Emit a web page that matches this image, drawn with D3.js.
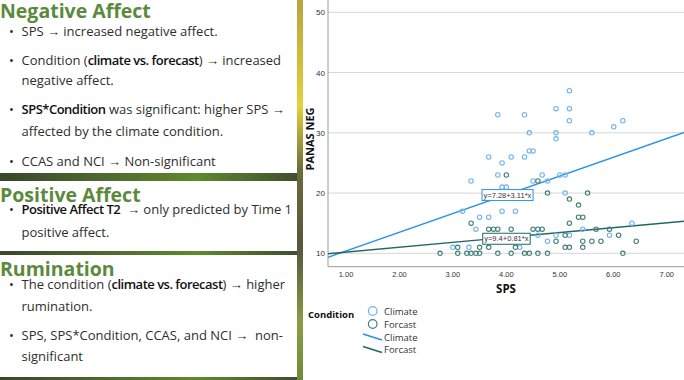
<!DOCTYPE html>
<html>
<head>
<meta charset="utf-8">
<script src="https://cdn.jsdelivr.net/npm/d3@7"></script>
<style>
  body { margin: 0; background: #fff; }
  svg { display: block; }
</style>
</head>
<body>
<script>
// slide text
let headings = ["Negative Affect", "Positive Affect", "Rumination"];

// each line: list of [text, bold], first line of a bullet starts with "*"
let negLines = [
  ["*", ["SPS → increased negative affect.", 0]],
  ["*", ["Condition (", 0], ["climate vs. forecast", 1], [") → increased", 0]],
  ["", ["negative affect.", 0]],
  ["*", ["SPS*Condition", 1], [" was significant: higher SPS →", 0]],
  ["", ["affected by the climate condition.", 0]],
  ["*", ["CCAS and NCI → Non-significant", 0]]
];
let posLines = [
  ["*", ["Positive Affect T2", 1], ["  → only predicted by Time 1", 0]],
  ["", ["positive affect.", 0]]
];
let rumLines = [
  ["*", ["The condition (", 0], ["climate vs. forecast", 1], [") → higher", 0]],
  ["", ["rumination.", 0]],
  ["*", ["SPS, SPS*Condition, CCAS, and NCI →  non-", 0]],
  ["", ["significant", 0]]
];

// chart data: [SPS, PANAS NEG]
let climate = [
  [3.84,33],[4.34,33],[4.93,34],[5.18,37],[5.18,34],[5.18,32],[4.43,30],[4.93,30],
  [4.93,29],[5.6,30],[6.01,31],[6.18,32],[3.67,26],[3.92,25],[4.09,26],[4.34,26],
  [4.43,27],[4.5,27],[3.84,23],[3.34,22],[3.92,21],[4.0,21],[4.67,23],[5.0,23],
  [5.1,23],[4.5,22],[4.77,22],[5.1,20],[3.18,17],[3.92,17],[4.17,17],[3.5,16],
  [3.67,16],[3.43,14],[5.43,14],[6.35,15],[5.93,13],[4.59,13],[4.93,13],[5.18,13],
  [4.77,12],[3.0,11],[3.3,11],[4.25,11]
];
let forcast = [
  [4.0,23],[4.59,22],[4.77,20],[5.52,20],[5.18,19],[5.35,18],[3.34,15],[5.35,16],
  [5.43,16],[5.18,15],[5.68,14],[5.93,14],[6.1,13],[3.67,14],[3.76,14],[3.84,14],
  [4.09,14],[4.5,14],[4.59,14],[4.67,14],[5.1,13],[4.93,12],[5.43,12],[5.6,12],
  [5.77,12],[6.43,12],[3.09,11],[3.5,11],[3.67,11],[4.17,11],[5.1,11],[5.18,11],
  [5.43,11],[2.76,10],[3.09,10],[3.26,10],[3.34,10],[3.43,10],[3.5,10],[3.84,10],
  [4.09,10],[4.34,10],[4.43,10],[4.59,10],[4.77,10],[6.18,10]
];
let fits = [
  {name: "Climate", a: 7.28, b: 3.11, label: "y=7.28+3.11*x", at: [4.02, 19.7]},
  {name: "Forcast", a: 9.4, b: 0.81, label: "y=9.4+0.81*x", at: [4.0, 12.45]}
];
let xTicks = [1, 2, 3, 4, 5, 6, 7];
let yTicks = [10, 20, 30, 40, 50];

let colors = {
  Climate: {dot: "#6fb3ec", line: "#2b92e4"},
  Forcast: {dot: "#3f7e77", line: "#1e6a62"}
};

let svg = null;
let x, y = null;

appendSvg("body");
drawSlide();
setupScales();
drawGrid();
drawAxes();
drawFits();
drawPoints();
drawLegend();

function appendSvg(domElement) {
  svg = d3.select(domElement).append("svg")
    .attr("width", 684)
    .attr("height", 380)
    .style("font-family", "'Open Sans', sans-serif");
}

function drawSlide() {
  let defs = svg.append("defs");
  let bg = defs.append("linearGradient").attr("id", "forest")
    .attr("x1", 0).attr("x2", 1).attr("y1", 0).attr("y2", 0);
  bg.append("stop").attr("offset", "0%").attr("stop-color", "#39462b");
  bg.append("stop").attr("offset", "35%").attr("stop-color", "#4f6a30");
  bg.append("stop").attr("offset", "65%").attr("stop-color", "#5e8a2c");
  bg.append("stop").attr("offset", "100%").attr("stop-color", "#3e4a30");

  let strip = defs.append("linearGradient").attr("id", "strip")
    .attr("x1", 0).attr("x2", 0).attr("y1", 0).attr("y2", 1);
  strip.append("stop").attr("offset", "0%").attr("stop-color", "#b7a43c");
  strip.append("stop").attr("offset", "28%").attr("stop-color", "#e2d23a");
  strip.append("stop").attr("offset", "45%").attr("stop-color", "#6d6a3a");
  strip.append("stop").attr("offset", "65%").attr("stop-color", "#57553e");
  strip.append("stop").attr("offset", "85%").attr("stop-color", "#8d9c44");
  strip.append("stop").attr("offset", "100%").attr("stop-color", "#6f8a38");

  svg.append("rect").attr("x", 0).attr("y", 0).attr("width", 303).attr("height", 380)
    .attr("fill", "url(#forest)");
  svg.append("rect").attr("x", 297).attr("y", 0).attr("width", 6).attr("height", 380)
    .attr("fill", "url(#strip)");

  let boxes = [[0, 173], [181, 251], [255, 377]];
  boxes.forEach(function(b) {
    svg.append("rect").attr("x", -2).attr("y", b[0]).attr("width", 299)
      .attr("height", b[1] - b[0]).attr("fill", "#fff");
  });

  let headY = [17.5, 201.5, 275.5];
  svg.selectAll(".head").data(headings).enter().append("text")
    .attr("class", "head")
    .attr("x", 0).attr("y", function(d, i) { return headY[i]; })
    .attr("fill", "#5b8a3c")
    .style("font-size", "19.5px").style("font-weight", 700)
    .text(function(d) { return d; });

  writeLines(negLines, [36, 65, 85, 114.3, 136, 165.5]);
  writeLines(posLines, [214.3, 236.5]);
  writeLines(rumLines, [289, 311, 340, 360.5]);
}

function writeLines(lines, ys) {
  lines.forEach(function(line, i) {
    if (line[0] == "*") {
      svg.append("text").attr("x", 9).attr("y", ys[i])
        .attr("fill", "#2e2e2e").style("font-size", "13px").text("•");
    }
    let t = svg.append("text").attr("x", 21.5).attr("y", ys[i])
      .attr("fill", "#2e2e2e").style("font-size", "13px")
      .attr("xml:space", "preserve");
    line.slice(1).forEach(function(seg) {
      t.append("tspan")
        .style("font-weight", seg[1] ? 600 : 400)
        .style("letter-spacing", seg[1] ? "-0.5px" : null)
        .attr("fill", seg[1] ? "#111" : "#2e2e2e")
        .text(seg[0]);
    });
  });
}

function setupScales() {
  x = d3.scaleLinear().domain([0.663, 7.324]).range([328, 684]);
  y = d3.scaleLinear().domain([7.78, 52.04]).range([266.7, 0]);
}

function drawGrid() {
  svg.append("g").selectAll("line").data(yTicks).enter().append("line")
    .attr("x1", x.range()[0]).attr("x2", x.range()[1])
    .attr("y1", function(d) { return y(d); }).attr("y2", function(d) { return y(d); })
    .attr("stroke", "#d6d6d6").attr("stroke-width", 1);
}

function drawAxes() {
  let g = svg.append("g");
  g.append("line").attr("x1", 328).attr("x2", 328).attr("y1", 0).attr("y2", y.range()[0])
    .attr("stroke", "#9a9a9a");
  g.append("line").attr("x1", 328).attr("x2", 684).attr("y1", y.range()[0]).attr("y2", y.range()[0])
    .attr("stroke", "#9a9a9a");

  g.selectAll(".yt").data(yTicks).enter().append("text")
    .attr("x", 325).attr("y", function(d) { return y(d) + 3; })
    .attr("text-anchor", "end").attr("fill", "#333")
    .style("font-size", "8px").style("font-family", "Arial, 'Liberation Sans', sans-serif")
    .text(function(d) { return d; });

  g.selectAll(".xt").data(xTicks).enter().append("text")
    .attr("x", function(d) { return x(d); }).attr("y", 277)
    .attr("text-anchor", "middle").attr("fill", "#333")
    .style("font-size", "7.5px").style("font-family", "Arial, 'Liberation Sans', sans-serif")
    .text(function(d) { return d3.format(".2f")(d); });

  g.append("text").attr("x", 506).attr("y", 292.5).attr("text-anchor", "middle")
    .style("font-size", "11.5px").style("font-weight", 700).attr("fill", "#111")
    .text("SPS");

  g.append("text").attr("transform", "translate(313.5,139) rotate(-90)")
    .attr("text-anchor", "middle")
    .style("font-size", "11px").style("font-weight", 700).attr("fill", "#111")
    .text("PANAS NEG");
}

function drawFits() {
  let line = d3.line().x(function(d) { return x(d[0]); }).y(function(d) { return y(d[1]); });
  let dom = x.domain();

  fits.forEach(function(f) {
    svg.append("path")
      .datum(dom.map(function(v) { return [v, f.a + f.b * v]; }))
      .attr("d", line).attr("fill", "none")
      .attr("stroke", colors[f.name].line).attr("stroke-width", 1.4);
  });

  fits.forEach(function(f) {
    let g = svg.append("g");
    let t = g.append("text").attr("x", x(f.at[0])).attr("y", y(f.at[1]) + 2.7)
      .attr("text-anchor", "middle").attr("fill", "#333")
      .style("font-size", "7.5px").style("font-family", "Arial, 'Liberation Sans', sans-serif")
      .text(f.label);
    let bb = t.node().getBBox();
    g.insert("rect", "text")
      .attr("x", bb.x - 1.5).attr("y", bb.y - 1)
      .attr("width", bb.width + 3).attr("height", bb.height + 2)
      .attr("fill", "#fff").attr("stroke", colors[f.name].line).attr("stroke-width", 1);
  });
}

function drawPoints() {
  [["Climate", climate], ["Forcast", forcast]].forEach(function(s) {
    svg.append("g").selectAll("circle").data(s[1]).enter().append("circle")
      .attr("cx", function(d) { return x(d[0]); })
      .attr("cy", function(d) { return y(d[1]); })
      .attr("r", 2.2).attr("fill", "none")
      .attr("stroke", colors[s[0]].dot).attr("stroke-width", 1.1);
  });
}

function drawLegend() {
  let g = svg.append("g");
  g.append("text").attr("x", 308).attr("y", 318).attr("fill", "#111")
    .style("font-size", "9.5px").style("font-weight", 700).text("Condition");

  let names = ["Climate", "Forcast"];
  names.forEach(function(n, i) {
    g.append("circle").attr("cx", 372.7).attr("cy", 311 + i * 13).attr("r", 4.3)
      .attr("fill", "none").attr("stroke", colors[n].dot).attr("stroke-width", 1.2);
    g.append("text").attr("x", 384).attr("y", 315 + i * 13).attr("fill", "#333")
      .style("font-size", "9.5px").text(n);
  });
  names.forEach(function(n, i) {
    let yy = 337 + i * 12.5;
    g.append("line").attr("x1", 363).attr("x2", 382).attr("y1", yy - 3).attr("y2", yy + 3)
      .attr("stroke", colors[n].line).attr("stroke-width", 1.6);
    g.append("text").attr("x", 384).attr("y", yy + 3.5).attr("fill", "#333")
      .style("font-size", "9.5px").text(n);
  });
}
</script>
</body>
</html>
